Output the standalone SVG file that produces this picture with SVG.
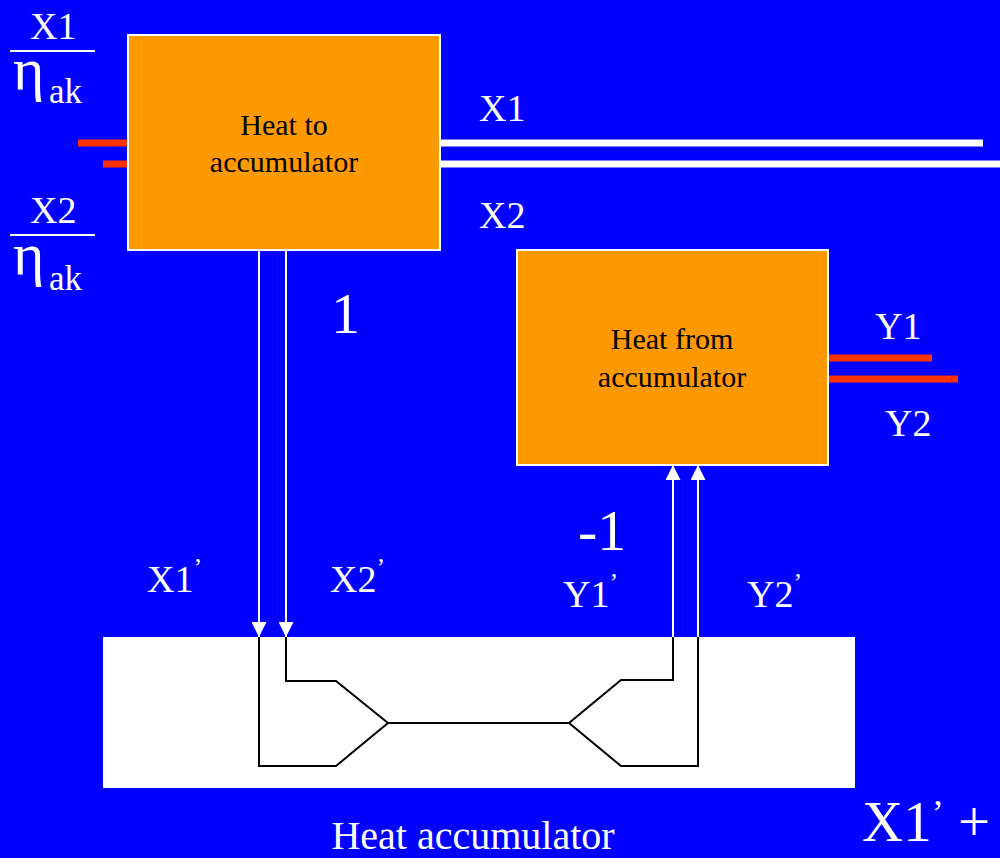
<svg xmlns="http://www.w3.org/2000/svg" width="1000" height="858" viewBox="0 0 1000 858">
<style>
text{font-family:"Liberation Serif","Times New Roman",serif;}
.w{fill:#FFFFFF;}
.lbl{fill:#FFFFFF;font-size:38px;}
.box{fill:#FF9900;stroke:#FFFFFF;stroke-width:2;}
.boxt{fill:#000000;font-size:30px;text-anchor:middle;}
.red{stroke:#FF3300;stroke-width:7;fill:none;}
.wl{stroke:#FFFFFF;stroke-width:7;fill:none;}
.arr{stroke:#FFFFFF;stroke-width:2;fill:none;}
.blk{stroke:#000000;stroke-width:2;fill:none;}
.fr{stroke:#FFFFFF;stroke-width:2;}
.eta{fill:#FFFFFF;font-size:60px;}
.ak{fill:#FFFFFF;font-size:35px;}
.pr{font-size:26px;}
</style>
<defs>
<marker id="ah" viewBox="0 0 15 15" refX="15" refY="7.5" markerWidth="15" markerHeight="15" markerUnits="userSpaceOnUse" orient="auto">
<path d="M0,0 L15,7.5 L0,15 Z" fill="#FFFFFF"/>
</marker>
</defs>
<rect x="0" y="0" width="1000" height="858" fill="#0000FF"/>

<g id="fractions">
<text class="lbl" x="30" y="39">X1</text>
<line class="fr" x1="10" y1="51" x2="95" y2="51"/>
<text class="eta" x="13" y="89">η</text>
<text class="ak" x="49" y="103">ak</text>
<text class="lbl" x="30" y="223">X2</text>
<line class="fr" x1="10" y1="235" x2="95" y2="235"/>
<text class="eta" x="13" y="274">η</text>
<text class="ak" x="49" y="290">ak</text>
</g>

<g id="connectors">
<line class="red" x1="78" y1="143" x2="128" y2="143"/>
<line class="red" x1="103" y1="164" x2="128" y2="164"/>
<line class="wl" x1="440" y1="143" x2="983" y2="143"/>
<line class="wl" x1="440" y1="164" x2="1000" y2="164"/>
<line class="red" x1="828" y1="358" x2="932" y2="358"/>
<line class="red" x1="828" y1="379" x2="958" y2="379"/>
<line class="arr" x1="259" y1="250" x2="259" y2="637" marker-end="url(#ah)"/>
<line class="arr" x1="286" y1="250" x2="286" y2="637" marker-end="url(#ah)"/>
<line class="arr" x1="673" y1="637" x2="673" y2="465" marker-end="url(#ah)"/>
<line class="arr" x1="698" y1="637" x2="698" y2="465" marker-end="url(#ah)"/>
</g>

<g id="heat-to-accumulator">
<rect class="box" x="128" y="35" width="312" height="215"/>
<text class="boxt" x="284" y="135">Heat to</text>
<text class="boxt" x="284" y="172">accumulator</text>
</g>

<g id="heat-from-accumulator">
<rect class="box" x="517" y="250" width="311" height="215"/>
<text class="boxt" x="672" y="349">Heat from</text>
<text class="boxt" x="672" y="387">accumulator</text>
</g>

<g id="heat-accumulator">
<rect x="103" y="637" width="752" height="151" fill="#FFFFFF"/>
<polyline class="blk" points="259,637 259,766 336,766 388,723"/>
<polyline class="blk" points="286,637 286,681 336,681 388,723"/>
<line class="blk" x1="388" y1="723" x2="570" y2="723"/>
<polyline class="blk" points="673,637 673,680 621,680 569,723"/>
<polyline class="blk" points="698,637 698,766 621,766 569,723"/>
</g>

<g id="labels">
<text class="lbl" x="479" y="121">X1</text>
<text class="lbl" x="479" y="228">X2</text>
<text class="w" x="331" y="333" font-size="58">1</text>
<text class="w" x="578" y="550" font-size="58">-1</text>
<text class="lbl" x="875" y="339">Y1</text>
<text class="lbl" x="885" y="436">Y2</text>
<text class="lbl" x="147" y="592">X1<tspan class="pr" dy="-16">’</tspan></text>
<text class="lbl" x="330" y="592">X2<tspan class="pr" dy="-16">’</tspan></text>
<text class="lbl" x="563" y="607">Y1<tspan class="pr" dy="-16">’</tspan></text>
<text class="lbl" x="747" y="607">Y2<tspan class="pr" dy="-16">’</tspan></text>
<text class="w" x="473" y="849" font-size="40" text-anchor="middle">Heat accumulator</text>
<text class="w" x="862" y="841" font-size="57">X1<tspan font-size="36" dy="-16">’</tspan><tspan font-size="57" dy="16"> +</tspan></text>
</g>
</svg>
